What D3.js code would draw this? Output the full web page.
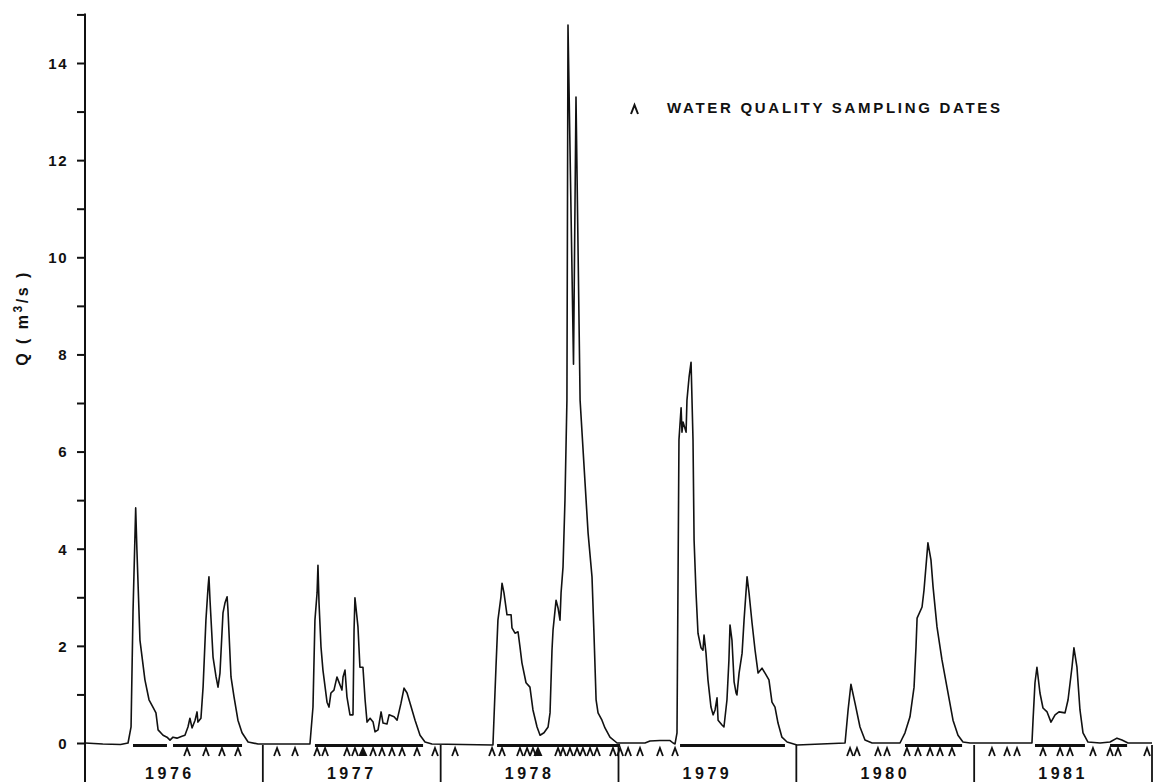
<!DOCTYPE html>
<html>
<head>
<meta charset="utf-8">
<script src="https://cdn.jsdelivr.net/npm/d3@7"></script>
<style>
  html, body { margin: 0; padding: 0; background: #fff; }
  svg { display: block; }
  text { font-family: "Liberation Sans", Arial, sans-serif; font-weight: bold; fill: #111; }
</style>
</head>
<body>
<svg id="chart" width="1168" height="784"></svg>
<script>
// ---- data (decimal year, discharge Q in m3/s) ----
const years = ["1976", "1977", "1978", "1979", "1980", "1981"];
const yTickValues = [0, 1, 2, 3, 4, 5, 6, 7, 8, 9, 10, 11, 12, 13, 14, 15];
const yTickLabels = ["0", "", "2", "", "4", "", "6", "", "8", "", "10", "", "12", "", "14", ""];

const flowDates = [
  1976.000, 1976.100, 1976.200, 1976.242, 1976.259, 1976.270, 1976.285, 1976.292, 1976.309, 1976.337,
  1976.360, 1976.382, 1976.399, 1976.411, 1976.439, 1976.461, 1976.478, 1976.495, 1976.517, 1976.545,
  1976.562, 1976.579, 1976.590, 1976.602, 1976.619, 1976.630, 1976.635, 1976.652, 1976.664, 1976.680,
  1976.692, 1976.697, 1976.703, 1976.720, 1976.737, 1976.748, 1976.759, 1976.776, 1976.787, 1976.799,
  1976.804, 1976.821, 1976.838, 1976.860, 1976.883, 1976.917, 1976.973,
  1977.265, 1977.282, 1977.293, 1977.305, 1977.310, 1977.316, 1977.327, 1977.338, 1977.361, 1977.372,
  1977.383, 1977.400, 1977.417, 1977.423, 1977.445, 1977.451, 1977.462, 1977.473, 1977.490, 1977.507,
  1977.513, 1977.518, 1977.535, 1977.546, 1977.563, 1977.575, 1977.586, 1977.603, 1977.620, 1977.631,
  1977.648, 1977.665, 1977.676, 1977.698, 1977.710, 1977.738, 1977.755, 1977.777, 1977.794, 1977.811,
  1977.828, 1977.856, 1977.884, 1977.912, 1977.951,
  1978.294, 1978.311, 1978.322, 1978.339, 1978.345, 1978.356, 1978.373, 1978.396, 1978.401, 1978.418,
  1978.435, 1978.446, 1978.457, 1978.480, 1978.502, 1978.519, 1978.542, 1978.559, 1978.581, 1978.604,
  1978.615, 1978.626, 1978.632, 1978.649, 1978.660, 1978.671, 1978.677, 1978.688, 1978.699, 1978.710,
  1978.716, 1978.747, 1978.761, 1978.784, 1978.812, 1978.829, 1978.851, 1978.862, 1978.874, 1978.885,
  1978.907, 1978.924, 1978.952, 1978.992,
  1979.149, 1979.177, 1979.233, 1979.290, 1979.307, 1979.318, 1979.329, 1979.335, 1979.340, 1979.352,
  1979.357, 1979.363, 1979.380, 1979.385, 1979.397, 1979.408, 1979.419, 1979.425, 1979.436, 1979.447,
  1979.464, 1979.475, 1979.481, 1979.492, 1979.503, 1979.520, 1979.532, 1979.543, 1979.554, 1979.560,
  1979.582, 1979.593, 1979.610, 1979.621, 1979.627, 1979.638, 1979.650, 1979.661, 1979.666, 1979.678,
  1979.695, 1979.706, 1979.723, 1979.734, 1979.751, 1979.768, 1979.785, 1979.807, 1979.824, 1979.846,
  1979.863, 1979.880, 1979.897, 1979.919, 1979.948,
  1980.004, 1980.274, 1980.291, 1980.307, 1980.330, 1980.358, 1980.386, 1980.426, 1980.583, 1980.611,
  1980.639, 1980.662, 1980.673, 1980.679, 1980.707, 1980.718, 1980.740, 1980.757, 1980.769, 1980.791,
  1980.819, 1980.847, 1980.881, 1980.909, 1980.937, 1980.977,
  1981.325, 1981.331, 1981.342, 1981.353, 1981.370, 1981.387, 1981.410, 1981.432, 1981.455, 1981.477,
  1981.511, 1981.528, 1981.550, 1981.561, 1981.578, 1981.595, 1981.612, 1981.640, 1981.708, 1981.764,
  1981.803, 1981.831, 1981.865, 1982.000
];
const flowQ = [
  0.00, -0.02, -0.03, 0.00, 0.33, 2.70, 4.84, 3.97, 2.12, 1.30,
  0.89, 0.74, 0.62, 0.27, 0.16, 0.12, 0.06, 0.12, 0.10, 0.14,
  0.16, 0.33, 0.51, 0.31, 0.47, 0.64, 0.43, 0.51, 1.15, 2.53,
  3.21, 3.42, 2.94, 1.77, 1.36, 1.15, 1.44, 2.68, 2.88, 3.01,
  2.74, 1.36, 0.95, 0.47, 0.21, 0.02, -0.02,
  -0.02, 0.74, 2.53, 3.09, 3.66, 2.88, 1.98, 1.50, 0.84, 0.74,
  1.03, 1.09, 1.36, 1.30, 1.09, 1.36, 1.50, 0.95, 0.58, 0.58,
  2.33, 2.99, 2.39, 1.56, 1.56, 0.89, 0.43, 0.51, 0.43, 0.23,
  0.27, 0.64, 0.41, 0.39, 0.58, 0.54, 0.47, 0.82, 1.13, 1.03,
  0.82, 0.47, 0.16, 0.02, -0.02,
  -0.04, 1.56, 2.53, 3.01, 3.29, 3.09, 2.64, 2.64, 2.37, 2.26,
  2.29, 1.98, 1.65, 1.24, 1.15, 0.68, 0.33, 0.16, 0.21, 0.33,
  0.62, 1.91, 2.33, 2.94, 2.78, 2.53, 3.09, 3.62, 5.00, 7.06,
  14.78, 7.80, 13.30, 7.06, 5.35, 4.32, 3.42, 2.26, 0.89, 0.62,
  0.47, 0.31, 0.12, 0.00,
  0.00, 0.04, 0.05, 0.05, 0.00, -0.02, 0.21, 3.50, 6.24, 6.90,
  6.40, 6.61, 6.40, 7.06, 7.54, 7.84, 6.24, 4.18, 3.09, 2.26,
  1.96, 1.91, 2.22, 1.85, 1.30, 0.74, 0.58, 0.68, 0.93, 0.47,
  0.37, 0.33, 0.89, 1.71, 2.43, 2.12, 1.26, 1.03, 0.99, 1.44,
  1.85, 2.53, 3.42, 3.09, 2.47, 1.91, 1.44, 1.54, 1.44, 1.30,
  0.84, 0.74, 0.41, 0.12, 0.02,
  -0.04, 0.00, 0.68, 1.21, 0.82, 0.33, 0.06, 0.00, 0.00, 0.21,
  0.54, 1.15, 1.98, 2.57, 2.80, 3.15, 4.12, 3.77, 3.21, 2.39,
  1.71, 1.15, 0.47, 0.16, 0.02, 0.00,
  0.00, 0.47, 1.24, 1.56, 1.03, 0.72, 0.64, 0.43, 0.58, 0.64,
  0.62, 0.89, 1.56, 1.96, 1.56, 0.68, 0.21, 0.02, 0.00, 0.02,
  0.10, 0.06, 0.00, 0.00
];

// water quality sampling dates (decimal year)
const sampleDates = [
  1976.574, 1976.680, 1976.770, 1976.860,
  1977.080, 1977.181, 1977.305, 1977.350, 1977.473, 1977.518, 1977.620, 1977.670,
  1977.726, 1977.783, 1977.867, 1977.968,
  1978.081, 1978.289, 1978.345, 1978.446, 1978.486, 1978.519, 1978.660, 1978.688,
  1978.727, 1978.767, 1978.800, 1978.840, 1978.879, 1978.969, 1979.009, 1979.054,
  1979.121, 1979.233, 1979.318,
  1980.302, 1980.341, 1980.459, 1980.510, 1980.622, 1980.684, 1980.752, 1980.808, 1980.875,
  1981.100, 1981.185, 1981.241, 1981.387, 1981.483, 1981.539, 1981.668, 1981.764,
  1981.809, 1981.972
];
const filledSampleDates = [1977.563, 1978.547];

// thick baseline bars (start, end decimal year)
const barStarts = [1976.270, 1976.495, 1977.293, 1978.317, 1979.346, 1980.611, 1981.342, 1981.764];
const barEnds   = [1976.461, 1976.883, 1977.901, 1979.009, 1979.936, 1980.932, 1981.623, 1981.860];

// ---- drawing ----
const svg = d3.select("#chart");
const x = d3.scaleLinear().domain([1976, 1982]).range([85, 1152]);
const y = d3.scaleLinear().domain([0, 14]).range([743, 63]);

// y axis
const yAxis = d3.axisLeft(y)
  .tickValues(yTickValues)
  .tickSize(8)
  .tickPadding(9)
  .tickFormat((d, i) => yTickLabels[i]);
const gy = svg.append("g").attr("transform", "translate(85,0)").call(yAxis);
gy.select(".domain").remove();
gy.selectAll(".tick line").attr("stroke", "#111").attr("stroke-width", 2);
gy.selectAll(".tick text")
  .style("font-size", "15px")
  .style("font-family", "'Liberation Sans', Arial, sans-serif")
  .style("font-weight", "bold")
  .attr("fill", "#111")
  .attr("letter-spacing", "1.5px")
  .attr("dy", "0.36em");

svg.append("line")
  .attr("x1", 85).attr("x2", 85)
  .attr("y1", y(15) - 1).attr("y2", 782)
  .attr("stroke", "#111").attr("stroke-width", 2);

// y label
const yl = svg.append("text")
  .attr("transform", "translate(28,318) rotate(-90)")
  .attr("text-anchor", "middle")
  .attr("letter-spacing", "2.5px")
  .style("font-size", "16px");
yl.append("tspan").text("Q ( m");
yl.append("tspan").attr("dy", "-6").style("font-size", "12px").text("3");
yl.append("tspan").attr("dy", "6").text("/s )");

// year dividers & labels
const dividers = d3.range(1977, 1983);
svg.selectAll("line.div").data(dividers).enter().append("line")
  .attr("class", "div")
  .attr("x1", d => x(d)).attr("x2", d => x(d))
  .attr("y1", 745).attr("y2", 782)
  .attr("stroke", "#111").attr("stroke-width", 1.8);

svg.selectAll("text.year").data(years).enter().append("text")
  .attr("class", "year")
  .attr("x", (d, i) => x(+d + 0.5) + (i === 0 ? -4 : 0))
  .attr("y", 779)
  .attr("text-anchor", "middle")
  .attr("letter-spacing", "3.5px")
  .style("font-size", "16px")
  .text(d => d);

// thick bars
svg.selectAll("line.bar").data(barStarts).enter().append("line")
  .attr("class", "bar")
  .attr("x1", d => x(d))
  .attr("x2", (d, i) => x(barEnds[i]))
  .attr("y1", 745.5).attr("y2", 745.5)
  .attr("stroke", "#111").attr("stroke-width", 3);

// flow line
const flow = flowDates.map((t, i) => [t, flowQ[i]]);
svg.append("path")
  .datum(flow)
  .attr("fill", "none")
  .attr("stroke", "#111")
  .attr("stroke-width", 1.6)
  .attr("stroke-linejoin", "round")
  .attr("d", d3.line().x(d => x(d[0])).y(d => y(d[1])));

// sampling marks
svg.selectAll("path.mark").data(sampleDates).enter().append("path")
  .attr("class", "mark")
  .attr("d", d => `M${x(d) - 3},756 L${x(d)},748 L${x(d) + 3},756`)
  .attr("fill", "none")
  .attr("stroke", "#111")
  .attr("stroke-width", 1.8);
svg.selectAll("path.fmark").data(filledSampleDates).enter().append("path")
  .attr("class", "fmark")
  .attr("d", d => `M${x(d) - 4.5},756 L${x(d)},746 L${x(d) + 4.5},756 Z`)
  .attr("fill", "#111");

// legend
svg.append("path")
  .attr("d", "M631,114 L634.5,105 L638,114")
  .attr("fill", "none").attr("stroke", "#111").attr("stroke-width", 2);
svg.append("text")
  .attr("x", 667).attr("y", 113)
  .attr("textLength", 333)
  .attr("lengthAdjust", "spacing")
  .style("font-size", "15px")
  .text("WATER QUALITY SAMPLING DATES");
</script>
</body>
</html>
